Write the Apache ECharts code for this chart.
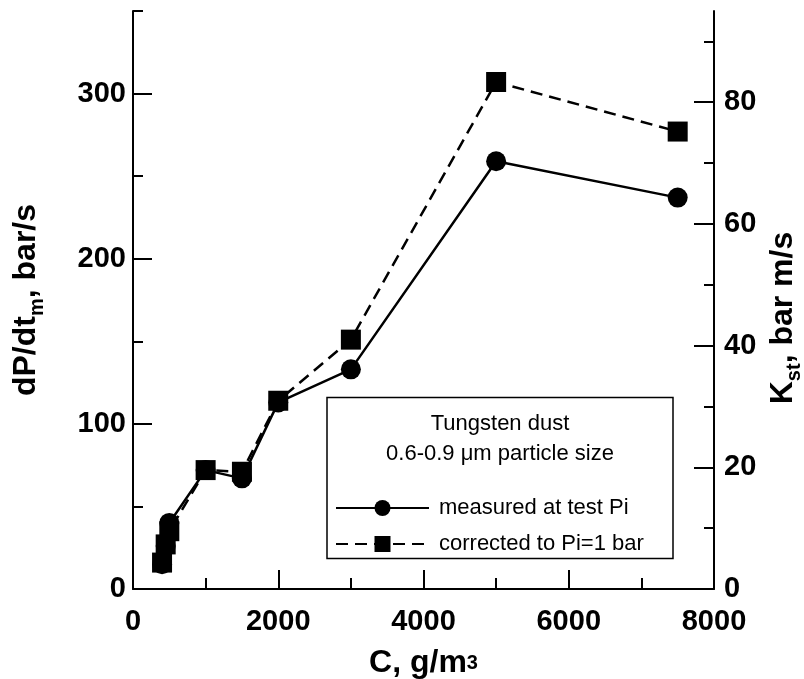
<!DOCTYPE html>
<html>
<head>
<meta charset="utf-8">
<script src="https://cdn.jsdelivr.net/npm/echarts@6/dist/echarts.min.js"></script>
<style>
  html, body { margin: 0; padding: 0; background: #fff; }
  #chart { width: 804px; height: 679px; }
</style>
</head>
<body>
<div id="chart"></div>
<script>
// Dust concentration, g/m3
const concMeasured = [400, 450, 500, 1000, 1500, 2000, 3000, 5000, 7500];
const concCorrected = [400, 450, 500, 1000, 1500, 2000, 3000, 5000, 7500];
// Max rate of pressure rise, bar/s
const dpdtMeasured = [15, 26, 40, 72, 67, 113, 133, 259, 237];
const dpdtCorrected = [16, 27, 35, 72, 71, 114, 151, 307, 277];

const seriesNames = ['measured at test Pi', 'corrected to Pi=1 bar'];
const boxLines = ['Tungsten dust', '0.6-0.9 μm particle size'];

// Labelled tick positions
const yMajor = [0, 100, 200, 300];
const kMajor = [0, 20, 40, 60, 80];

// Kst = (dP/dt)max * V^(1/3), 20-L chamber
const KST_FACTOR = 0.2714;
const Y_MAX = 350;

const FONT = 'Liberation Sans, Arial, sans-serif';
const black = '#000';

function pairs(xs, ys) { return xs.map((x, i) => [x, ys[i]]); }

const tickLabel = { fontFamily: FONT, fontWeight: 'bold', fontSize: 29, color: black };
const axisLineStyle = { color: black, width: 2 };

const titleRich = {
  // main text and subscript for the rotated titles
  a: { fontFamily: FONT, fontWeight: 'bold', fontSize: 32, color: black, lineHeight: 42, verticalAlign: 'middle' },
  s: { fontFamily: FONT, fontWeight: 'bold', fontSize: 20, color: black, lineHeight: 20, verticalAlign: 'bottom' },
  // x title: small "3" sitting on the baseline
  b: { fontFamily: FONT, fontWeight: 'bold', fontSize: 32, color: black, lineHeight: 32, verticalAlign: 'middle' },
  p: { fontFamily: FONT, fontWeight: 'bold', fontSize: 20, color: black, verticalAlign: 'middle' }
};

const chart = echarts.init(document.getElementById('chart'), null, { renderer: 'canvas' });

chart.setOption({
  animation: false,
  backgroundColor: '#fff',
  grid: { left: 133, top: 11, width: 581, height: 578, containLabel: false, outerBoundsMode: 'none' },
  xAxis: {
    type: 'value', min: 0, max: 8000, interval: 2000, position: 'bottom',
    axisLine: { show: true, onZero: false, lineStyle: axisLineStyle },
    axisTick: { show: true, inside: true, length: 19, lineStyle: axisLineStyle },
    minorTick: { show: true, splitNumber: 2, length: 11, lineStyle: axisLineStyle },
    axisLabel: Object.assign({ margin: 18, formatter: v => String(v) }, tickLabel),
    splitLine: { show: false },
    minorSplitLine: { show: false },
    name: '{b|C, g/m}{p|3}',
    nameLocation: 'middle', nameGap: 58,
    nameTextStyle: { rich: titleRich }
  },
  yAxis: [
    {
      // tiny overshoot keeps the minor tick at the top end of the axis
      type: 'value', min: 0, max: Y_MAX + 0.001, interval: 100, position: 'left',
      axisLine: { show: true, onZero: false, lineStyle: axisLineStyle },
      axisTick: { show: true, inside: true, length: 19, customValues: yMajor, lineStyle: axisLineStyle },
      minorTick: { show: true, splitNumber: 2, length: 10, lineStyle: axisLineStyle },
      axisLabel: Object.assign({ customValues: yMajor, margin: 7 }, tickLabel),
      splitLine: { show: false },
      minorSplitLine: { show: false },
      name: '{a|dP/dt}{s|m}{a|, bar/s}',
      nameLocation: 'middle', nameRotate: 90, nameGap: 86,
      nameTextStyle: { rich: titleRich }
    },
    {
      type: 'value', min: 0, max: Y_MAX * KST_FACTOR, interval: 20, position: 'right',
      axisLine: { show: true, onZero: false, lineStyle: axisLineStyle },
      axisTick: { show: true, inside: true, length: 20, customValues: kMajor, lineStyle: axisLineStyle },
      minorTick: { show: true, splitNumber: 2, length: 10, lineStyle: axisLineStyle },
      axisLabel: Object.assign({ customValues: kMajor, margin: 10 }, tickLabel),
      splitLine: { show: false },
      minorSplitLine: { show: false },
      name: '{a|K}{s|st}{a|, bar m/s}',
      nameLocation: 'middle', nameRotate: 90, nameGap: 48,
      nameTextStyle: { rich: titleRich, padding: [0, 36, 0, 0] }
    }
  ],
  legend: {
    data: seriesNames,
    orient: 'vertical',
    left: 335, top: 497,
    padding: 0,
    itemWidth: 93, itemHeight: 20, itemGap: 14,
    textStyle: { fontFamily: FONT, fontSize: 22, color: black, padding: [0, 0, 0, 5] }
  },
  graphic: [
    {
      type: 'rect', z: 1,
      shape: { x: 327, y: 397.5, width: 346, height: 161 },
      style: { fill: '#fff', stroke: '#000', lineWidth: 1.5 }
    },
    {
      type: 'text', z: 2, x: 500, y: 424,
      style: { text: boxLines[0], font: '22px ' + FONT, fill: black, align: 'center', verticalAlign: 'middle' }
    },
    {
      type: 'text', z: 2, x: 500, y: 454,
      style: { text: boxLines[1], font: '22px ' + FONT, fill: black, align: 'center', verticalAlign: 'middle' }
    }
  ],
  series: [
    {
      name: seriesNames[1], type: 'line', yAxisIndex: 0,
      data: pairs(concCorrected, dpdtCorrected),
      symbol: 'rect', symbolSize: 20,
      itemStyle: { color: black },
      lineStyle: { color: black, width: 2.5, type: [12, 7] }
    },
    {
      name: seriesNames[0], type: 'line', yAxisIndex: 0,
      data: pairs(concMeasured, dpdtMeasured),
      symbol: 'circle', symbolSize: 20,
      itemStyle: { color: black },
      lineStyle: { color: black, width: 2.5, type: 'solid' }
    }
  ]
});
</script>
</body>
</html>
